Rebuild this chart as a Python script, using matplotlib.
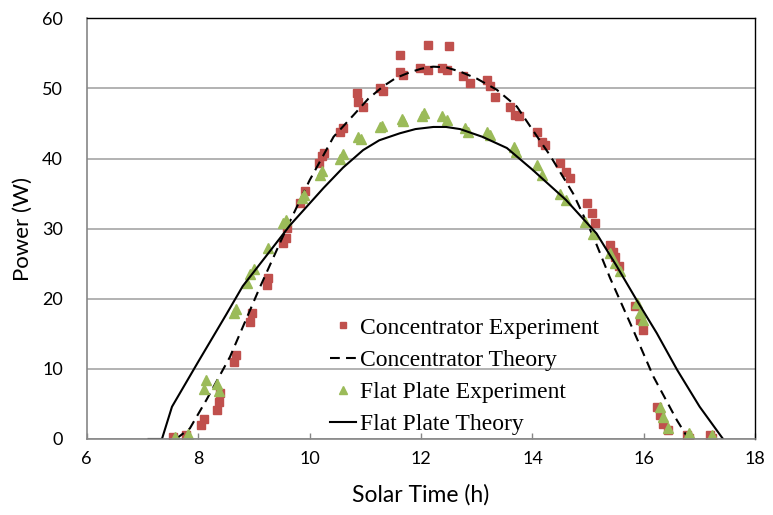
import matplotlib
matplotlib.use("Agg")
from matplotlib import pyplot as plt

# concentrator experiment (red squares)
conc_exp_t = [7.55, 7.79, 8.05, 8.10, 8.34, 8.38, 8.40, 8.64, 8.68, 8.93, 8.96, 9.23, 9.26,
              9.53, 9.57, 9.60, 9.83, 9.92, 10.16, 10.22, 10.25, 10.55, 10.60, 10.85, 10.87,
              10.96, 11.26, 11.32, 11.62, 11.62, 11.68, 11.98, 12.12, 12.13, 12.37, 12.46,
              12.51, 12.76, 12.88, 13.18, 13.24, 13.33, 13.60, 13.69, 13.75, 14.08, 14.17,
              14.22, 14.49, 14.61, 14.67, 14.97, 15.06, 15.12, 15.39, 15.45, 15.48, 15.55,
              15.84, 15.93, 15.99, 16.23, 16.29, 16.35, 16.44, 16.77, 16.80, 17.19, 17.22]
conc_exp_p = [0.3, 0.6, 2.0, 2.9, 4.2, 5.3, 6.5, 11.0, 12.0, 16.7, 17.9, 22.0, 22.9,
              27.9, 28.6, 30.1, 33.6, 35.3, 39.3, 40.3, 40.8, 43.8, 44.3, 49.3, 48.1,
              47.4, 50.0, 49.7, 54.8, 52.4, 51.9, 52.9, 56.2, 52.6, 52.9, 52.6,
              56.0, 51.7, 50.7, 51.2, 50.3, 48.8, 47.4, 46.2, 46.0, 43.8, 42.4,
              41.9, 39.3, 38.1, 37.2, 33.6, 32.2, 30.8, 27.7, 26.6, 26.0, 24.6,
              18.9, 17.0, 15.5, 4.6, 3.4, 2.2, 1.3, 0.6, 0.1, 0.6, 0.2]

# concentrator theory (dashed)
conc_th_t = [7.60, 7.85, 8.15, 8.57, 9.10, 9.59, 10.00, 10.43, 10.80, 11.05, 11.32, 11.55,
             11.80, 12.00, 12.22, 12.45, 12.70, 13.00, 13.36, 13.72, 14.00, 14.31, 14.73,
             15.09, 15.39, 15.81, 16.17, 16.59, 16.80]
conc_th_p = [0.0, 1.5, 5.6, 11.7, 21.5, 30.1, 36.9, 43.1, 46.3, 48.5, 50.3, 51.5,
             52.3, 52.8, 53.1, 53.0, 52.4, 51.4, 49.8, 47.4, 44.1, 40.5, 35.0,
             28.9, 23.0, 15.5, 8.9, 2.7, 0.0]

# flat plate experiment (green triangles)
flat_exp_t = [7.58, 7.82, 8.10, 8.14, 8.33, 8.37, 8.64, 8.67, 8.87, 8.93, 9.00, 9.26, 9.53,
              9.57, 9.86, 9.90, 10.19, 10.23, 10.55, 10.60, 10.87, 10.92, 11.26, 11.30,
              11.65, 11.68, 12.01, 12.06, 12.37, 12.46, 12.79, 12.85, 13.18, 13.24, 13.66,
              13.70, 14.08, 14.17, 14.49, 14.61, 14.94, 15.09, 15.39, 15.48, 15.57, 15.87,
              15.93, 15.99, 16.29, 16.35, 16.44, 16.80, 17.22]
flat_exp_p = [0.3, 0.7, 7.1, 8.4, 7.9, 6.9, 17.9, 18.6, 22.2, 23.6, 24.3, 27.2, 30.8,
              31.3, 34.3, 34.8, 37.7, 38.2, 40.0, 40.6, 43.1, 42.8, 44.5, 44.6,
              45.7, 45.4, 46.0, 46.5, 46.0, 45.5, 44.3, 43.8, 43.8, 43.3, 41.7,
              40.9, 39.1, 37.7, 35.0, 34.1, 31.0, 29.3, 26.5, 25.1, 23.9, 19.4,
              17.9, 17.0, 4.6, 3.2, 1.5, 0.8, 0.6]

# flat plate theory (solid)
flat_th_t = [7.11, 7.35, 7.53, 8.00, 8.50, 8.80, 9.25, 9.65, 10.25, 10.60, 10.96, 11.25,
             11.62, 11.90, 12.22, 12.45, 12.70, 13.10, 13.54, 14.00, 14.60, 15.15, 15.50,
             15.87, 16.23, 16.60, 17.00, 17.42]
flat_th_p = [0.0, 0.0, 4.6, 11.0, 17.7, 21.8, 26.4, 30.5, 35.8, 38.7, 41.2, 42.6,
             43.6, 44.2, 44.5, 44.5, 44.2, 43.1, 41.5, 38.4, 34.1, 29.3, 24.8,
             19.8, 15.1, 9.8, 4.6, 0.0]

fig = plt.figure(figsize=(7.73, 5.15), dpi=100)
ax = fig.add_axes([0.1122, 0.1476, 0.8650, 0.8169])

ax.plot(conc_exp_t, conc_exp_p, 's', color='#c0504d', markersize=5.5, label='Concentrator Experiment')
line, = ax.plot(conc_th_t, conc_th_p, '--', color='black', lw=1.5, label='Concentrator Theory')
line.set_dashes((4.7, 3))
ax.plot(flat_exp_t, flat_exp_p, '^', color='#9bbb59', markersize=7, label='Flat Plate Experiment')
ax.plot(flat_th_t, flat_th_p, '-', color='black', lw=1.5, label='Flat Plate Theory')

ax.set_xlim(6, 18)
ax.set_ylim(0, 60)
ax.set_xticks([6, 8, 10, 12, 14, 16, 18])
ax.set_yticks([0, 10, 20, 30, 40, 50, 60])
ax.yaxis.grid(True, color='#a6a6a6', lw=1.2)
ax.set_axisbelow(True)

for s in ['left', 'bottom']:
    ax.spines[s].set_color('#868686')
    ax.spines[s].set_linewidth(1.2)
for s in ['top', 'right']:
    ax.spines[s].set_color('black')
    ax.spines[s].set_linewidth(1.0)

ax.tick_params(axis='x', direction='in', length=4, width=1, color='#868686', pad=9,
               labelsize=13, labelfontfamily='Lato')
ax.tick_params(axis='y', length=0, pad=17, labelsize=13, labelfontfamily='Lato')

ax.set_xlabel('Solar Time (h)', fontsize=16.5, family='Lato', labelpad=12)
ax.set_ylabel('Power (W)', fontsize=16, family='Lato', labelpad=7)

leg = ax.legend(loc='lower left', bbox_to_anchor=(0.346, -0.019), frameon=False, borderpad=0,
                prop={'family': 'Liberation Serif', 'size': 17},
                handlelength=1.1, handletextpad=0.17, labelspacing=0.45, markerscale=0.8)

fig.savefig('out.png', dpi=100)
